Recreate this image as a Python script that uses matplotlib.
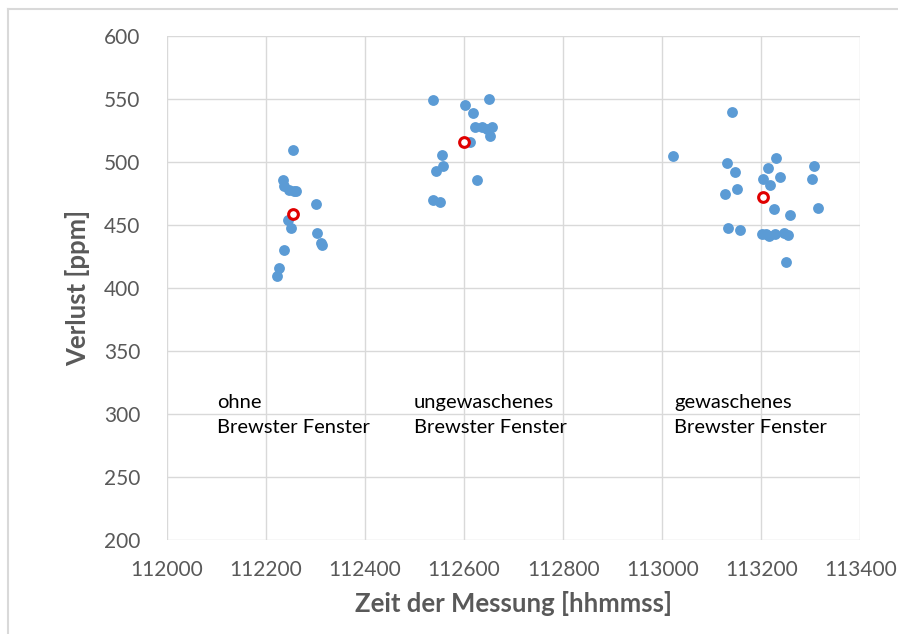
import matplotlib
matplotlib.use("Agg")
import matplotlib.pyplot as plt
from matplotlib.lines import Line2D

plt.rcParams['font.family'] = ['Lato', 'DejaVu Sans']

# Messpunkte (Zeit [hhmmss], Verlust [ppm])
zeit_ohne = [112254, 112234, 112237, 112247, 112257, 112261, 112301, 112244, 112251,
             112303, 112310, 112312, 112237, 112227, 112222]
verlust_ohne = [510, 486, 481, 478, 477, 477, 467, 454, 448, 444, 436, 434, 430, 416, 410]

zeit_unge = [112538, 112650, 112602, 112617, 112622, 112636, 112646, 112657, 112653,
             112612, 112556, 112558, 112544, 112626, 112538, 112551]
verlust_unge = [549, 550, 545, 539, 528, 528, 526, 528, 521, 516, 506, 497, 493, 486, 470, 468]

zeit_gew = [113141, 113022, 113130, 113230, 113213, 113306, 113147, 113203, 113238,
            113302, 113218, 113151, 113126, 113225, 113314, 113259, 113133, 113158,
            113201, 113210, 113216, 113228, 113246, 113255, 113250]
verlust_gew = [540, 505, 499, 503, 495, 497, 492, 487, 488, 487, 482, 479, 475, 463, 464,
               458, 448, 446, 443, 443, 441, 443, 444, 442, 421]

# Mittelwerte
mittel_zeit = [112255, 112600, 113203]
mittel_verlust = [459, 516, 472]

labels = ["ohne\nBrewster Fenster", "ungewaschenes\nBrewster Fenster", "gewaschenes\nBrewster Fenster"]
label_x = [112101, 112499, 113024]

blue = '#5B9BD5'
grey = '#595959'

fig = plt.figure(figsize=(8.98, 6.34), dpi=100)
ax = fig.add_axes([0.186, 0.148, 0.772, 0.795])

for xs, ys in [(zeit_ohne, verlust_ohne), (zeit_unge, verlust_unge), (zeit_gew, verlust_gew)]:
    ax.plot(xs, ys, 'o', color=blue, markersize=7.8, markeredgewidth=0, zorder=3)
ax.plot(mittel_zeit, mittel_verlust, 'o', markerfacecolor='white', markeredgecolor='#E00000',
        markersize=7, markeredgewidth=2.2, zorder=4)

for lx, txt in zip(label_x, labels):
    ax.text(lx, 316, txt, fontsize=14.5, color='black', va='top', ha='left', linespacing=1.6)

ax.set_xlim(112000, 113400)
ax.set_ylim(200, 600)
ax.set_xticks(range(112000, 113401, 200))
ax.set_yticks(range(200, 601, 50))
ax.grid(True, color='#D9D9D9', linewidth=1)
ax.set_axisbelow(True)
for s in ax.spines.values():
    s.set_visible(False)
ax.tick_params(length=0, labelsize=15, labelcolor=grey)
ax.tick_params(axis='x', pad=14)
ax.tick_params(axis='y', pad=19)

ax.set_xlabel('Zeit der Messung [hhmmss]', fontsize=18.5, fontweight='bold', color=grey, labelpad=8)
ax.set_ylabel('Verlust [ppm]', fontsize=18.5, fontweight='bold', color=grey, labelpad=10)

# Rahmen des Diagramms
fig.add_artist(Line2D([7.5 / 898, 7.5 / 898], [0, 1 - 9 / 634], transform=fig.transFigure,
                      color='#D9D9D9', linewidth=1.5))
fig.add_artist(Line2D([7.5 / 898, 1], [1 - 9 / 634, 1 - 9 / 634], transform=fig.transFigure,
                      color='#D9D9D9', linewidth=1.5))

fig.savefig('out.png', dpi=100)
